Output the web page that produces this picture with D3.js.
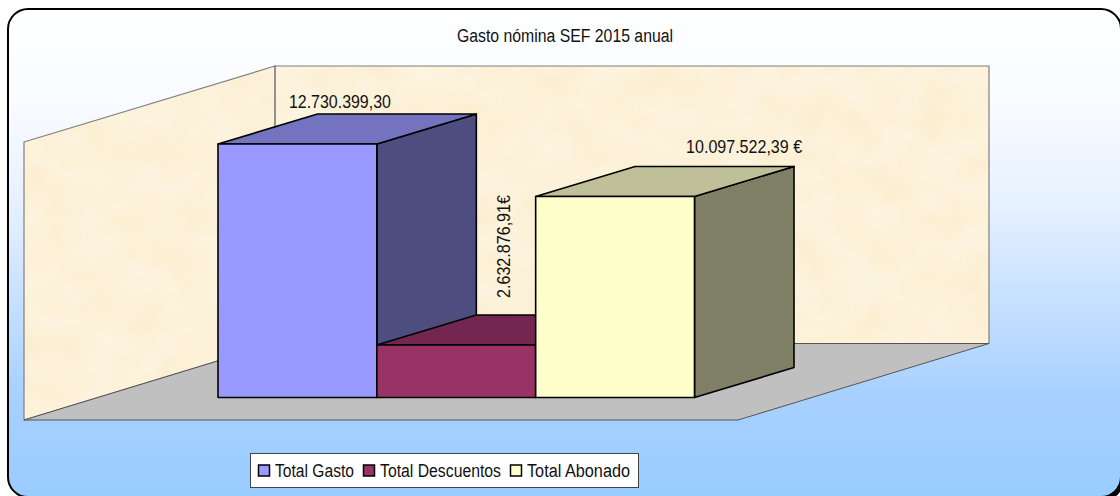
<!DOCTYPE html>
<html><head><meta charset="utf-8">
<script src="https://cdn.jsdelivr.net/npm/d3@7"></script>
<style>html,body{margin:0;padding:0;background:#fff}svg{display:block}text{font-family:"Liberation Sans",Arial,sans-serif;fill:#111}</style>
</head><body><div id="c"></div>
<script>
const chartTitle = "Gasto nómina SEF 2015 anual";
const categories = ["Total Gasto", "Total Descuentos", "Total Abonado"];
const values = [12730399.30, 2632876.91, 10097522.39];
const valueLabels = ["12.730.399,30", "2.632.876,91€", "10.097.522,39 €"];
const frontColors = ["#9999ff", "#993366", "#ffffcc"];
const topColors = ["#7373bf", "#732650", "#bfbf99"];
const sideColors = ["#4d4d80", "#4d1a33", "#808066"];

const W = 1120, H = 496;
const svg = d3.select("#c").append("svg").attr("width", W).attr("height", H);
const defs = svg.append("defs");

const grad = defs.append("linearGradient").attr("id", "bg").attr("x1", 0).attr("x2", 0).attr("y1", 0).attr("y2", 1);
[[0, "#ffffff"], [0.2, "#f8fbff"], [0.4, "#e6f1ff"], [0.6, "#c6e0ff"], [0.8, "#a6d0ff"], [1, "#99ccff"]]
  .forEach(([o, c]) => grad.append("stop").attr("offset", o).attr("stop-color", c));

const tex = defs.append("filter").attr("id", "paper").attr("x", 0).attr("y", 0).attr("width", 1).attr("height", 1)
  .attr("color-interpolation-filters", "sRGB");
tex.append("feTurbulence").attr("type", "fractalNoise").attr("baseFrequency", "0.025 0.03").attr("numOctaves", 3).attr("seed", 7).attr("result", "n");
tex.append("feColorMatrix").attr("in", "n").attr("type", "matrix")
  .attr("values", "0.015 0 0 0 0.982  0.04 0 0 0 0.925  0.1 0 0 0 0.80  0 0 0 0 1");

// chart area
const frame = {x: 8, y: 9, w: 1113, h: 488, r: 20};
svg.append("rect").attr("x", frame.x + 3).attr("y", frame.y + 3).attr("width", frame.w).attr("height", frame.h).attr("rx", frame.r).attr("fill", "#000");
svg.append("rect").attr("x", frame.x).attr("y", frame.y).attr("width", frame.w).attr("height", frame.h).attr("rx", frame.r)
  .attr("fill", "url(#bg)").attr("stroke", "#000").attr("stroke-width", 2);

// scales
const x = d3.scaleBand().domain(categories).range([218, 694.5]).padding(0);
const y = d3.scaleLinear().domain([0, 12730399.30]).range([397.5, 144]);
const depth = {dx: 99.5, dy: -30};
const poly = pts => pts.map(p => p.join(",")).join(" ");

// walls and floor
const wall = {fl: 24, bl: 275, br: 989, top: 66, floorBack: 343.5, floorFront: 420, frontRight: 738, leftTop: 142};
const walls = [
  [[wall.fl, wall.leftTop], [wall.bl, wall.top], [wall.bl, wall.floorBack], [wall.fl, wall.floorFront]],
  [[wall.bl, wall.top], [wall.br, wall.top], [wall.br, wall.floorBack], [wall.bl, wall.floorBack]]
];
const clipW = defs.append("clipPath").attr("id", "wallclip");
clipW.selectAll("polygon").data(walls).join("polygon").attr("points", poly);
svg.append("g").attr("clip-path", "url(#wallclip)").append("rect")
  .attr("x", wall.fl).attr("y", wall.top).attr("width", wall.br - wall.fl).attr("height", wall.floorFront - wall.top)
  .attr("filter", "url(#paper)");
svg.selectAll("polygon.wall").data(walls).join("polygon").attr("class", "wall").attr("points", poly)
  .attr("fill", "none").attr("stroke", "#808080").attr("stroke-width", 1.2);
svg.append("polygon").attr("points", poly([[wall.fl, wall.floorFront], [wall.bl, wall.floorBack], [wall.br, wall.floorBack], [wall.frontRight, wall.floorFront]]))
  .attr("fill", "#c0c0c0").attr("stroke", "#555").attr("stroke-width", 1);

// bars
const bars = svg.append("g").attr("stroke", "#000").attr("stroke-width", 1.6).attr("stroke-linejoin", "round");
categories.forEach((c, i) => {
  const x0 = x(c), x1 = x0 + x.bandwidth(), yT = y(values[i]), yB = y(0), {dx, dy} = depth;
  bars.append("polygon").attr("points", poly([[x1, yT], [x1 + dx, yT + dy], [x1 + dx, yB + dy], [x1, yB]])).attr("fill", sideColors[i]);
  bars.append("polygon").attr("points", poly([[x0, yT], [x0 + dx, yT + dy], [x1 + dx, yT + dy], [x1, yT]])).attr("fill", topColors[i]);
  bars.append("rect").attr("x", x0).attr("y", yT).attr("width", x1 - x0).attr("height", yB - yT).attr("fill", frontColors[i]);
});

// text
const fs = 18;
function label(t, px, py, len, rot) {
  const e = svg.append("text").attr("font-size", fs).attr("text-anchor", "middle")
    .attr("textLength", len).attr("lengthAdjust", "spacingAndGlyphs").text(t);
  e.attr("transform", `translate(${px},${py})` + (rot ? ` rotate(${rot})` : ""));
  return e;
}
label(chartTitle, 565, 41.5, 216);
label(valueLabels[0], x(categories[0]) + x.bandwidth() / 2 + 42.5, 108, 102);
label(valueLabels[1], x(categories[1]) + x.bandwidth() / 2 + 53.5, 246.5, 103, -90);
label(valueLabels[2], x(categories[2]) + x.bandwidth() / 2 + 129, 153, 116);

// legend
const legend = svg.append("g");
legend.append("rect").attr("x", 250.5).attr("y", 453.5).attr("width", 388).attr("height", 34).attr("fill", "#fff").attr("stroke", "#444").attr("stroke-width", 1);
const legendX = [258, 363, 510], legendLen = [79, 121, 103];
categories.forEach((c, i) => {
  legend.append("rect").attr("x", legendX[i] + .5).attr("y", 465).attr("width", 11).attr("height", 11)
    .attr("fill", frontColors[i]).attr("stroke", "#000").attr("stroke-width", 1.5);
  legend.append("text").attr("x", legendX[i] + 17).attr("y", 476.5).attr("font-size", fs)
    .attr("textLength", legendLen[i]).attr("lengthAdjust", "spacingAndGlyphs").text(c);
});
</script></body></html>
